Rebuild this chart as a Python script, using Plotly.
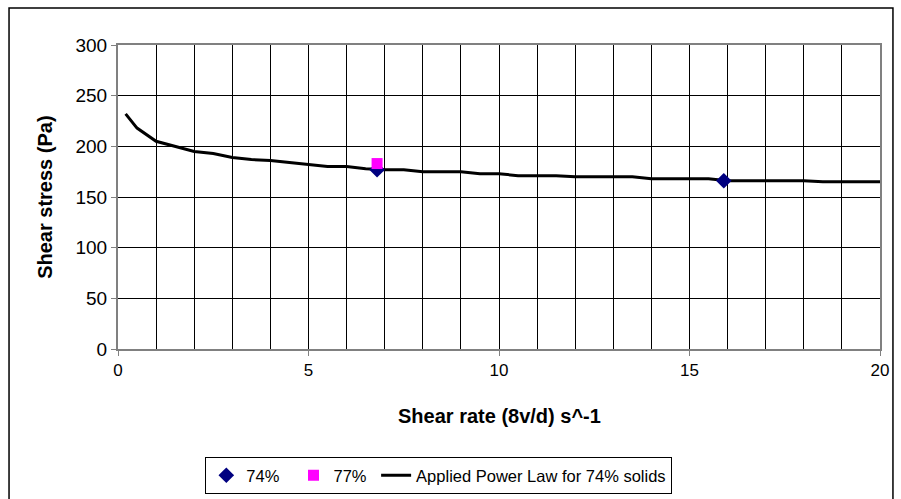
import plotly.graph_objects as go

# applied power law curve for 74% solids
law_rate = [0.2, 0.5, 1.0, 1.5, 2.0, 2.5, 3.0, 3.5, 4.0, 4.5, 5.0, 5.5, 6.0, 6.5,
            7.0, 7.5, 8.0, 8.5, 9.0, 9.5, 10.0, 10.5, 11.0, 11.5, 12.0, 12.5,
            13.0, 13.5, 14.0, 14.5, 15.0, 15.5, 16.0, 16.5, 17.0, 17.5, 18.0,
            18.5, 19.0, 19.5, 20.0]
law_stress = [232, 218, 205, 200, 195, 193, 189, 187, 186, 184, 182, 180, 180,
              178, 177, 177, 175, 175, 175, 173, 173, 171, 171, 171, 170, 170,
              170, 170, 168, 168, 168, 168, 166, 166, 166, 166, 166, 165, 165,
              165, 165]

# measured points
rate_74 = [6.8, 15.9]
stress_74 = [177, 166]
rate_77 = [6.8]
stress_77 = [183]

x_title = "Shear rate (8v/d) s^-1"
y_title = "Shear stress (Pa)"

FONT = "Liberation Sans, Arial, sans-serif"
NB = "\u00a0"

fig = go.Figure()
# line first so the markers sit on top of it
fig.add_trace(go.Scatter(
    x=law_rate, y=law_stress, mode="lines",
    name="Applied Power Law for 74% solids", legendrank=3,
    line=dict(color="black", width=3),
))
fig.add_trace(go.Scatter(
    x=rate_74, y=stress_74, mode="markers", name="74%" + NB * 2, legendrank=1,
    marker=dict(symbol="diamond", color="#000080", size=12),
))
fig.add_trace(go.Scatter(
    x=rate_77, y=stress_77, mode="markers", name="77%" + NB, legendrank=2,
    marker=dict(symbol="square", color="#FF00FF", size=11),
))

fig.update_layout(
    width=901, height=499,
    margin=dict(l=118, r=21, t=45, b=150),
    paper_bgcolor="white", plot_bgcolor="white",
    font=dict(family=FONT, size=17, color="black"),
    showlegend=True,
    legend=dict(
        orientation="h", x=0.421, xanchor="center",
        yref="container", y=0.084, yanchor="top",
        bordercolor="black", borderwidth=1, bgcolor="white",
        font=dict(size=16.5), traceorder="normal",
    ),
)
fig.update_xaxes(
    range=[0, 20], dtick=5, tick0=0, automargin=False,
    showgrid=True, gridcolor="black", gridwidth=1,
    minor=dict(dtick=1, showgrid=True, gridcolor="black", gridwidth=1),
    showline=True, linecolor="#808080", linewidth=2, mirror=True,
    ticks="outside", ticklen=5, tickcolor="#808080",
    zeroline=False, tickfont=dict(size=17),
)
fig.update_yaxes(
    range=[0, 300], dtick=50, automargin=False,
    showgrid=True, gridcolor="black", gridwidth=1,
    showline=True, linecolor="#808080", linewidth=2, mirror=True,
    ticks="outside", ticklen=5, tickcolor="#808080",
    zeroline=False, tickfont=dict(size=19),
)

# axis titles
fig.add_annotation(
    text=f"<b>{x_title}</b>", xref="paper", yref="paper", x=0.5, y=-0.22,
    xanchor="center", yanchor="middle", showarrow=False, font=dict(size=20),
)
fig.add_annotation(
    text=f"<b>{y_title}</b>", xref="paper", yref="paper", x=-0.096, y=0.5,
    xanchor="center", yanchor="middle", showarrow=False, textangle=-90,
    font=dict(size=20),
)

# outer chart border
fig.add_shape(
    type="rect", xref="paper", yref="paper",
    x0=-0.143, x1=1.017, y0=-0.5, y1=1.122,
    line=dict(color="black", width=1.5), layer="below",
)

fig.write_html(
    "out.html",
    config={"displayModeBar": False},
    post_script="document.body.style.margin='0';",
)
